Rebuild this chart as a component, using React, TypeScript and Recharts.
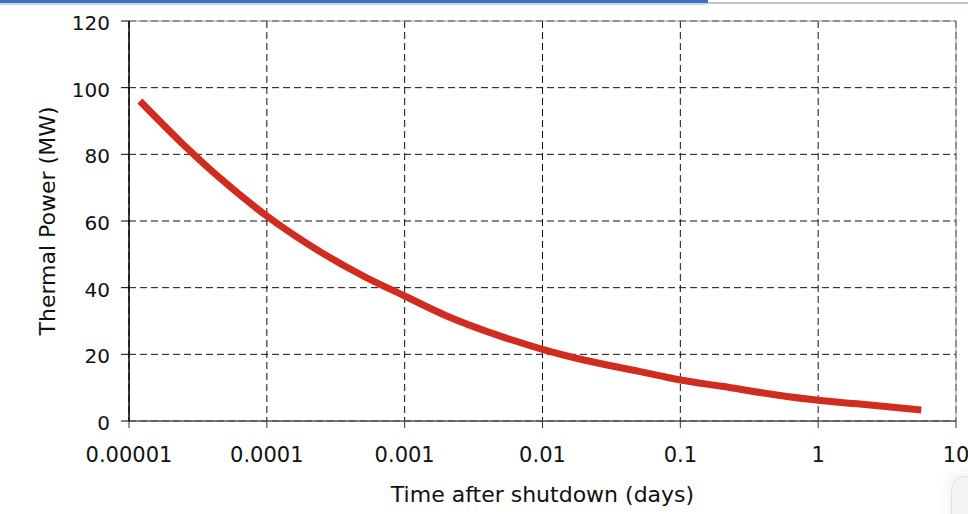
import React from 'react';
import { LineChart, Line, XAxis, YAxis, CartesianGrid, ReferenceLine } from 'recharts';

const daysAfterShutdown = [1.2e-5, 2.4e-5, 5e-5, 1e-4, 2e-4, 5e-4, 1e-3, 2e-3, 5e-3, 1e-2, 2e-2, 5e-2, 0.1, 0.2, 0.5, 1, 2, 5.6];
const thermalPowerMW = [96, 83.5, 71.5, 61.5, 53, 43.5, 37.5, 31.6, 25.4, 21.5, 18.3, 14.9, 12.3, 10.4, 7.8, 6.2, 5.1, 3.3];
const xTicks = [0.00001, 0.0001, 0.001, 0.01, 0.1, 1, 10];
const xTickLabels = ['0.00001', '0.0001', '0.001', '0.01', '0.1', '1', '10'];
const yTicks = [0, 20, 40, 60, 80, 100, 120];

const data = daysAfterShutdown.map((d, i) => ({ days: d, power: thermalPowerMW[i] }));

const FONT = '"DejaVu Sans", Verdana, sans-serif';

export default function App() {
  return (
    <div style={{ position: 'absolute', left: 0, top: 0, width: 968, height: 514, background: '#fff', overflow: 'hidden' }}>
      <div style={{ position: 'absolute', left: 0, top: 0, width: 708, height: 3, background: '#3f73b8' }} />
      <div style={{ position: 'absolute', left: 0, top: 3, width: 708, height: 2, background: '#c9d6ea' }} />
      <div style={{ position: 'absolute', left: 708, top: 2, width: 260, height: 2, background: '#b9c6d8' }} />
      <div style={{ position: 'absolute', left: 951, top: 476, width: 40, height: 60, background: '#f4f4f4', border: '1px solid #e0e0e0', borderTopLeftRadius: 14, boxShadow: '-4px -4px 14px rgba(0,0,0,0.05)' }} />
      <div style={{ position: 'absolute', left: 0, top: 0 }}>
        <LineChart width={968} height={514} data={data} margin={{ top: 21, right: 12, bottom: 0, left: 0 }}>
          <CartesianGrid stroke="#111" strokeDasharray="7 4" strokeWidth={1} />
          <ReferenceLine y={120} stroke="#999" strokeWidth={1} ifOverflow="visible" />
          <ReferenceLine x={10} stroke="#999" strokeWidth={1} ifOverflow="visible" />
          <XAxis
            dataKey="days"
            type="number"
            scale="log"
            domain={[0.00001, 10]}
            ticks={xTicks}
            tickFormatter={(v: number) => xTickLabels[xTicks.findIndex((t) => Math.abs(Math.log10(t) - Math.log10(v)) < 1e-6)] ?? String(v)}
            allowDataOverflow
            height={93}
            axisLine={{ stroke: '#555', strokeWidth: 1.3 }}
            tickLine={{ stroke: '#333' }}
            tickSize={7}
            tickMargin={19}
            tick={{ fill: '#111', fontSize: 21, fontFamily: FONT }}
            interval={0}
            label={{ value: 'Time after shutdown (days)', position: 'insideBottom', offset: 12, fill: '#111', fontSize: 22, fontFamily: FONT }}
          />
          <YAxis
            type="number"
            domain={[0, 120]}
            ticks={yTicks}
            width={129}
            axisLine={{ stroke: '#000', strokeWidth: 1.5 }}
            tickLine={{ stroke: '#000' }}
            tickSize={8}
            tickMargin={11}
            tick={{ fill: '#111', fontSize: 20, fontFamily: FONT, dy: 2 }}
            interval={0}
            label={{ value: 'Thermal Power (MW)', angle: -90, position: 'insideLeft', offset: 47, textAnchor: 'middle', fill: '#111', fontSize: 22, fontFamily: FONT }}
          />
          <Line
            type="monotone"
            dataKey="power"
            stroke="#d02c1f"
            strokeWidth={7}
            dot={false}
            activeDot={false}
            isAnimationActive={false}
          />
        </LineChart>
      </div>
    </div>
  );
}
